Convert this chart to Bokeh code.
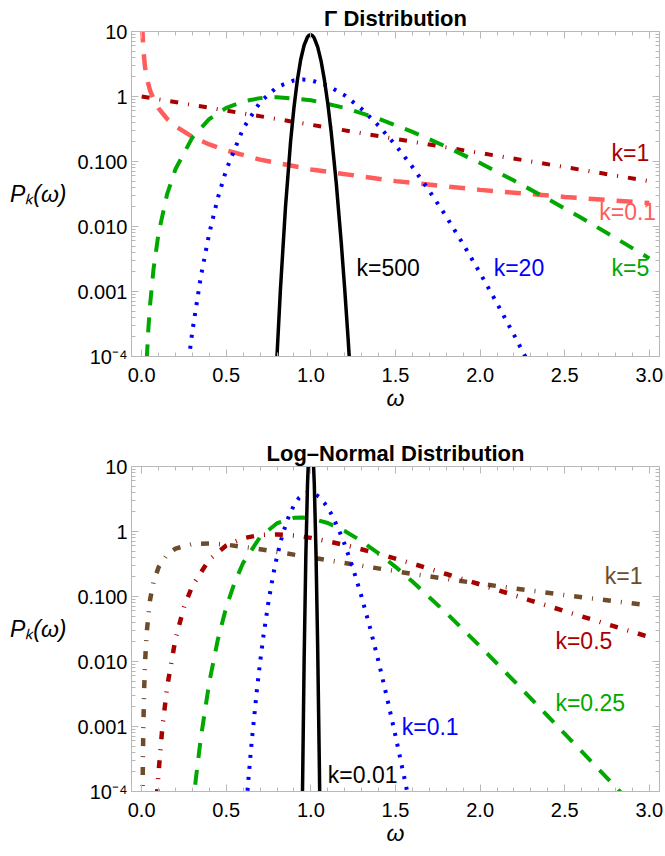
from bokeh.plotting import figure
from bokeh.models import Range1d, FixedTicker, LogAxis, LinearAxis, Label
from bokeh.layouts import column
from bokeh.embed import file_html
from bokeh.resources import INLINE

# ---------------- data ----------------
# Gamma distribution panel
gamma_k01_w = [0.004, 0.005, 0.01, 0.02, 0.03, 0.05, 0.075, 0.1, 0.15, 0.2, 0.3, 0.4, 0.5, 0.7, 1.0, 1.5, 2.0, 2.5, 3.0]
gamma_k01_p = [12.0, 9.83, 5.26, 2.82, 1.95, 1.23, 0.853, 0.657, 0.454, 0.348, 0.239, 0.183, 0.148, 0.107, 0.0755, 0.0499, 0.0366, 0.0285, 0.0230]

gamma_k1_w = [0.0, 0.5, 1.0, 1.5, 2.0, 2.5, 3.0]
gamma_k1_p = [1.0, 0.607, 0.368, 0.223, 0.135, 0.0821, 0.0498]

gamma_k5_w = [0.03, 0.04, 0.05, 0.07, 0.1, 0.15, 0.2, 0.3, 0.4, 0.5, 0.6, 0.7, 0.8, 1.0, 1.2, 1.4, 1.6, 1.8, 2.0, 2.2, 2.4, 2.6, 2.8, 3.0]
gamma_k5_p = [9.07e-5, 2.73e-4, 6.34e-4, 2.20e-3, 7.90e-3, 0.0311, 0.0766, 0.235, 0.451, 0.668, 0.840, 0.944, 0.977, 0.877, 0.669, 0.456, 0.286, 0.169, 0.0946, 0.0509, 0.0265, 0.0135, 6.66e-3, 3.23e-3]

gamma_k20_w = [0.27, 0.3, 0.35, 0.4, 0.45, 0.5, 0.6, 0.7, 0.8, 0.9, 0.95, 1.0, 1.1, 1.2, 1.3, 1.4, 1.5, 1.6, 1.7, 1.8, 1.9, 2.0, 2.1, 2.2, 2.3]
gamma_k20_p = [6.1e-5, 2.49e-4, 1.71e-3, 7.94e-3, 0.0274, 0.0746, 0.323, 0.817, 1.40, 1.77, 1.82, 1.78, 1.47, 1.04, 0.644, 0.356, 0.179, 0.0825, 0.0353, 0.0142, 5.35e-3, 1.92e-3, 6.57e-4, 2.15e-4, 6.8e-5]

gamma_k500_w = [0.78, 0.8, 0.82, 0.85, 0.88, 0.9, 0.92, 0.94, 0.96, 0.98, 0.99, 1.0, 1.01, 1.02, 1.04, 1.06, 1.08, 1.1, 1.12, 1.15, 1.18, 1.2, 1.22, 1.25]
gamma_k500_p = [7.5e-6, 1.05e-4, 1.07e-3, 0.0200, 0.202, 0.678, 1.78, 3.71, 6.15, 8.22, 8.78, 8.91, 8.60, 7.92, 5.80, 3.54, 1.80, 0.777, 0.283, 0.0463, 5.39e-3, 1.08e-3, 1.87e-4, 1.05e-5]

# Log-normal distribution panel
ln_k1_w = [0.005, 0.007, 0.01, 0.015, 0.02, 0.03, 0.05, 0.07, 0.1, 0.15, 0.2, 0.3, 0.4, 0.5, 0.7, 1.0, 1.3, 1.6, 2.0, 2.5, 3.0]
ln_k1_p = [6.4e-5, 2.57e-4, 9.9e-4, 3.93e-3, 9.48e-3, 0.0284, 0.0898, 0.166, 0.282, 0.440, 0.546, 0.644, 0.656, 0.628, 0.535, 0.399, 0.297, 0.223, 0.157, 0.105, 0.0727]

ln_k05_w = [0.09, 0.1, 0.12, 0.15, 0.2, 0.25, 0.3, 0.4, 0.5, 0.6, 0.7, 0.8, 0.9, 1.0, 1.2, 1.4, 1.6, 1.8, 2.0, 2.3, 2.6, 3.0]
ln_k05_p = [8.2e-5, 1.98e-4, 8.28e-4, 3.98e-3, 0.0224, 0.0684, 0.147, 0.372, 0.610, 0.789, 0.884, 0.903, 0.867, 0.798, 0.622, 0.454, 0.321, 0.222, 0.153, 0.0866, 0.0494, 0.0238]

ln_k025_w = [0.3, 0.32, 0.35, 0.4, 0.45, 0.5, 0.55, 0.6, 0.7, 0.8, 0.9, 0.95, 1.0, 1.1, 1.2, 1.3, 1.4, 1.5, 1.6, 1.8, 2.0, 2.2, 2.4, 2.6, 2.8, 2.9]
ln_k025_p = [4.9e-5, 1.54e-4, 6.76e-4, 4.83e-3, 0.0216, 0.0684, 0.166, 0.330, 0.824, 1.339, 1.622, 1.645, 1.596, 1.349, 1.019, 0.708, 0.461, 0.286, 0.170, 0.0559, 0.0171, 5.02e-3, 1.45e-3, 4.13e-4, 1.18e-4, 6.3e-5]

ln_k01_w = [0.61, 0.63, 0.65, 0.68, 0.7, 0.72, 0.75, 0.78, 0.8, 0.83, 0.86, 0.9, 0.93, 0.96, 0.98, 1.0, 1.02, 1.05, 1.08, 1.12, 1.16, 1.2, 1.25, 1.3, 1.35, 1.4, 1.45, 1.5, 1.55, 1.58]
ln_k01_p = [3.2e-5, 1.46e-4, 5.73e-4, 3.46e-3, 9.85e-3, 0.0251, 0.0849, 0.234, 0.414, 0.847, 1.488, 2.545, 3.297, 3.824, 3.989, 3.989, 3.835, 3.373, 2.747, 1.874, 1.143, 0.631, 0.265, 0.0982, 0.0327, 9.91e-3, 2.77e-3, 7.15e-4, 1.74e-4, 7.2e-5]

ln_k001_w = [0.945, 0.95, 0.96, 0.97, 0.98, 0.99, 1.0, 1.01, 1.02, 1.03, 1.04, 1.05, 1.055]
ln_k001_p = [4.8e-6, 8.1e-5, 0.0100, 0.398, 5.29, 24.3, 39.9, 24.1, 5.51, 0.491, 0.0175, 2.57e-4, 2.3e-5]

# axis ticks and labels
x_major = [0.0, 0.5, 1.0, 1.5, 2.0, 2.5, 3.0]
x_labels = ["0.0", "0.5", "1.0", "1.5", "2.0", "2.5", "3.0"]
y_major = [1e-4, 1e-3, 1e-2, 1e-1, 1.0, 10.0]
y_labels = ["10\u207b\u2074", "0.001", "0.010", "0.100", "1", "10"]

titles = ["\u0393 Distribution", "Log\u2013Normal Distribution"]
x_title = "\u03c9"
y_title = "P\u2096(\u03c9)"

# ---------------- styling ----------------
AX = "#b8b8b8"
FONT = "Liberation Sans"
C_SALMON = "#ff5c5c"
C_DRED = "#a80000"
C_GREEN = "#00a800"
C_BLUE = "#0000ff"
C_BLACK = "#000000"
C_BROWN = "#6e4b2a"

XMIN, XMAX = -0.06, 3.06
LEFT, RIGHT = 131, 6
FIG_W = 665
FRAME_H = 325


def make_panel(height, top, bottom, title):
    p = figure(width=FIG_W, height=height,
               x_range=Range1d(XMIN, XMAX), y_range=Range1d(1e-4, 10),
               y_axis_type="log", output_backend="svg", toolbar_location=None,
               min_border_left=LEFT, min_border_right=RIGHT,
               min_border_top=top, min_border_bottom=bottom)
    p.grid.visible = False
    p.outline_line_color = AX
    p.background_fill_color = "white"
    p.border_fill_color = "white"

    p.title.text = title
    p.title.align = "center"
    p.title.text_font = FONT
    p.title.text_font_style = "bold"
    p.title.text_font_size = "22px"
    p.title.text_color = "black"
    p.title.standoff = 2

    def xticker():
        return FixedTicker(ticks=x_major, minor_ticks=[i / 10 for i in range(31)])

    def yticker():
        return FixedTicker(ticks=y_major,
                           minor_ticks=[m * 10.0 ** e for e in range(-4, 1) for m in range(2, 10)])

    def base(ax):
        ax.axis_line_color = AX
        ax.major_tick_line_color = AX
        ax.minor_tick_line_color = AX
        ax.major_tick_in = 7
        ax.major_tick_out = 0
        ax.minor_tick_in = 4
        ax.minor_tick_out = 0

    xb = p.below[0]
    xb.ticker = xticker()
    base(xb)
    xb.major_label_overrides = dict(zip(x_major, x_labels))
    xb.major_label_text_font = FONT
    xb.major_label_text_font_size = "20px"
    xb.major_label_text_color = "black"
    xb.major_label_standoff = 11
    xb.axis_label = x_title
    xb.axis_label_text_font = FONT
    xb.axis_label_text_font_style = "italic"
    xb.axis_label_text_font_size = "23px"
    xb.axis_label_text_color = "black"
    xb.axis_label_standoff = 0

    yl = p.left[0]
    yl.ticker = yticker()
    base(yl)
    yl.major_label_overrides = dict(zip(y_major, y_labels))
    yl.major_label_text_font = FONT
    yl.major_label_text_font_size = "20px"
    yl.major_label_text_color = "black"
    yl.major_label_standoff = 4
    yl.axis_label = y_title
    yl.axis_label_orientation = "horizontal"
    yl.axis_label_text_font = FONT
    yl.axis_label_text_font_style = "italic"
    yl.axis_label_text_font_size = "23px"
    yl.axis_label_text_color = "black"
    yl.axis_label_standoff = 8

    xa = LinearAxis(ticker=xticker())
    base(xa)
    xa.major_label_overrides = {v: "" for v in x_major}
    xa.major_label_standoff = 0
    p.add_layout(xa, "above")

    yr = LogAxis(ticker=yticker())
    base(yr)
    yr.major_label_overrides = {v: "" for v in y_major}
    yr.major_label_standoff = 0
    p.add_layout(yr, "right")
    return p


def tag(p, x, y, s, color, align="left"):
    p.add_layout(Label(x=x, y=y, text=s, text_align=align, text_baseline="middle",
                       text_font=FONT, text_font_size="23px", text_color=color))


# ---------------- top: Gamma ----------------
top = make_panel(31 + FRAME_H + 79, 31, 79, titles[0])
top.line(gamma_k01_w, gamma_k01_p, line_color=C_SALMON, line_width=4.5, line_dash="16 12")
top.line(gamma_k1_w, gamma_k1_p, line_color=C_DRED, line_width=4, line_dash="8 10 1 10")
top.line(gamma_k5_w, gamma_k5_p, line_color=C_GREEN, line_width=4, line_dash="15 12")
top.line(gamma_k20_w, gamma_k20_p, line_color=C_BLUE, line_width=4, line_dash="3 8")
top.line(gamma_k500_w, gamma_k500_p, line_color=C_BLACK, line_width=3.5)

tag(top, 3.0, 0.134, "k=1", C_DRED, "right")
tag(top, 3.04, 0.0166, "k=0.1", C_SALMON, "right")
tag(top, 3.0, 0.0023, "k=5", C_GREEN, "right")
tag(top, 2.08, 0.0023, "k=20", C_BLUE)
tag(top, 1.27, 0.0023, "k=500", C_BLACK)

# ---------------- bottom: Log-normal ----------------
bot = make_panel(31 + FRAME_H + 64, 31, 64, titles[1])
bot.line(ln_k1_w, ln_k1_p, line_color=C_BROWN, line_width=4.5, line_dash="8 10 1 10")
bot.line(ln_k05_w, ln_k05_p, line_color=C_DRED, line_width=4.5, line_dash="8 10 1 10")
bot.line(ln_k025_w, ln_k025_p, line_color=C_GREEN, line_width=4, line_dash="15 12")
bot.line(ln_k01_w, ln_k01_p, line_color=C_BLUE, line_width=4, line_dash="3 8")
bot.line(ln_k001_w, ln_k001_p, line_color=C_BLACK, line_width=3.5)

tag(bot, 2.96, 0.204, "k=1", C_BROWN, "right")
tag(bot, 2.445, 0.021, "k=0.5", C_DRED)
tag(bot, 2.445, 0.00226, "k=0.25", C_GREEN)
tag(bot, 1.537, 0.001, "k=0.1", C_BLUE)
tag(bot, 1.10, 1.8e-4, "k=0.01", C_BLACK)

layout = column(top, bot, spacing=0)
open("out.html", "w").write(file_html(layout, INLINE))
